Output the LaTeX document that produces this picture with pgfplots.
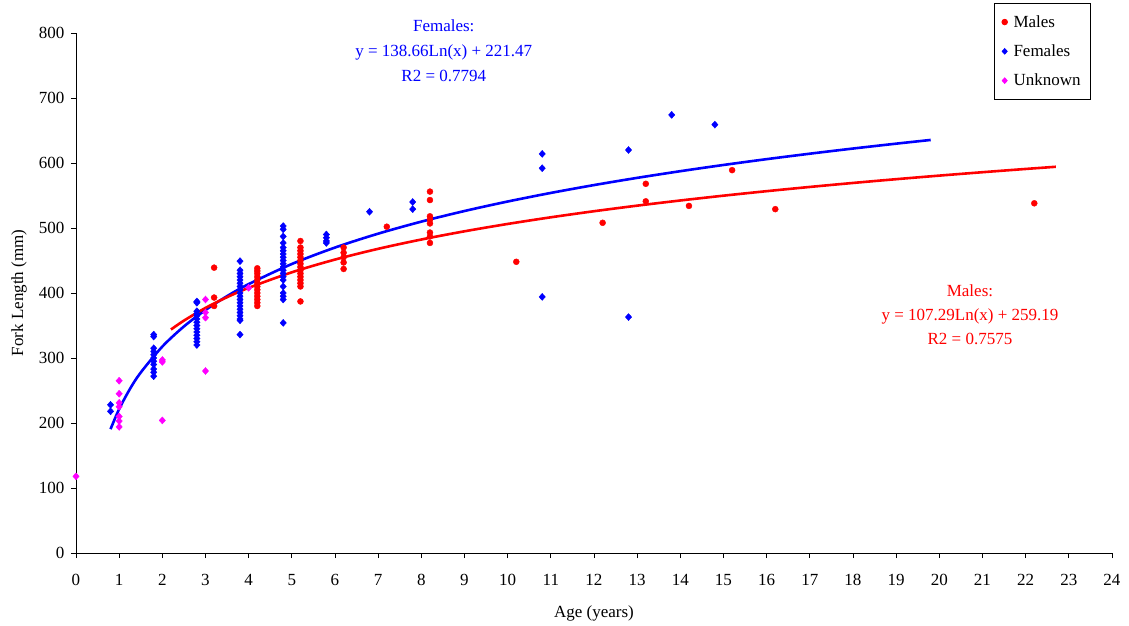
\documentclass[border=0pt]{standalone}
\usepackage{fontspec}
\setmainfont{Liberation Serif}
\usepackage{pgfplots}
\pgfplotsset{compat=1.18}

\definecolor{mred}{RGB}{255,0,0}
\definecolor{fblue}{RGB}{0,0,255}
\definecolor{umag}{RGB}{255,0,255}

\newcommand{\chartfont}{\fontsize{17}{20}\selectfont}

\begin{document}
\begin{tikzpicture}
\begin{axis}[
  at={(0,0)}, anchor=south west,
  scale only axis,
  width=1036pt, height=520pt,
  xmin=0, xmax=24, ymin=0, ymax=800,
  xtick={0,1,...,24}, ytick={0,100,...,800},
  axis lines=left,
  axis line style={-, black, line width=0.8pt},
  tick align=outside, major tick length=5pt,
  tick style={black, line width=0.8pt},
  /pgf/number format/assume math mode=true,
  font=\chartfont,
  ticklabel style={font=\chartfont},
  xticklabel style={yshift=-13pt},
  yticklabel style={xshift=-3pt},
  xlabel={Age (years)}, ylabel={Fork Length (mm)},
  xlabel style={font=\chartfont, at={(axis description cs:0.5,-0.1170)}, anchor=center},
  ylabel style={font=\chartfont, at={(axis description cs:-0.055,0.5)}, anchor=center},
  clip=false,
  legend style={at={(0.9797,1.0577)}, anchor=north east, draw=black,
    line width=0.8pt, font=\chartfont,
    row sep=12pt, column sep=4pt, inner xsep=8pt, inner ysep=10pt},
  legend image post style={mark size=2.8pt},
  legend cell align=left,
]
% Males
\addplot[only marks, mark=*, mark size=3pt, color=mred] coordinates {
 (3.2,439) (3.2,393) (3.2,380)
 (4.2,438) (4.2,434) (4.2,430) (4.2,425) (4.2,420) (4.2,415) (4.2,410)
 (4.2,405) (4.2,400) (4.2,395) (4.2,390) (4.2,385) (4.2,380)
 (5.2,480) (5.2,470) (5.2,465) (5.2,460) (5.2,455) (5.2,450) (5.2,445)
 (5.2,440) (5.2,435) (5.2,430) (5.2,425) (5.2,420) (5.2,415) (5.2,410) (5.2,387)
 (6.2,470) (6.2,462) (6.2,455) (6.2,447) (6.2,437)
 (7.2,502)
 (8.2,556) (8.2,543) (8.2,518) (8.2,513) (8.2,507) (8.2,493) (8.2,487) (8.2,477)
 (10.2,448) (12.2,508) (13.2,568) (13.2,541) (14.2,534) (15.2,589) (16.2,529)
 (22.2,538)
};
\addlegendentry{Males}
% Females
\addplot[only marks, mark=diamond*, mark size=3.5pt,
  mark options={xscale=1.2}, color=fblue] coordinates {
 (0.8,228) (0.8,218)
 (1.8,336) (1.8,333) (1.8,315) (1.8,310) (1.8,305) (1.8,300) (1.8,295)
 (1.8,290) (1.8,283) (1.8,278) (1.8,272)
 (2.8,387) (2.8,385) (2.8,372) (2.8,368) (2.8,365) (2.8,360) (2.8,355)
 (2.8,350) (2.8,345) (2.8,340) (2.8,335) (2.8,330) (2.8,325) (2.8,320)
 (3.8,449) (3.8,435) (3.8,430) (3.8,425) (3.8,420) (3.8,415) (3.8,410)
 (3.8,405) (3.8,400) (3.8,395) (3.8,390) (3.8,385) (3.8,380) (3.8,375)
 (3.8,370) (3.8,365) (3.8,360) (3.8,358) (3.8,336)
 (4.8,503) (4.8,498) (4.8,487) (4.8,477) (4.8,470) (4.8,465) (4.8,460)
 (4.8,455) (4.8,450) (4.8,445) (4.8,440) (4.8,435) (4.8,430) (4.8,425)
 (4.8,420) (4.8,410) (4.8,400) (4.8,395) (4.8,390) (4.8,354)
 (5.8,490) (5.8,485) (5.8,480) (5.8,477)
 (6.8,525) (7.8,540) (7.8,529)
 (10.8,614) (10.8,592) (10.8,394)
 (12.8,620) (12.8,363) (13.8,674) (14.8,659)
};
\addlegendentry{Females}
% Unknown sex
\addplot[only marks, mark=diamond*, mark size=3.5pt,
  mark options={xscale=1.2}, color=umag] coordinates {
 (0,118)
 (1,265) (1,245) (1,231) (1,225) (1,210) (1,203) (1,194)
 (2,297) (2,294) (2,204)
 (3,390) (3,370) (3,362) (3,280)
 (4,408)
};
\addlegendentry{Unknown}
% Logarithmic trendline, females: y = 138.66 ln(x) + 221.47
\addplot[forget plot, no marks, color=fblue, line width=2.6pt, smooth] coordinates {
 (0.8,190.53) (1,221.47) (1.25,252.41) (1.5,277.69) (2,317.58) (2.5,348.52)
 (3,373.80) (3.5,395.18) (4,413.69) (5,444.63) (6,469.92) (7,491.29)
 (8,509.80) (9,526.14) (10,540.75) (11,553.96) (12,566.03) (13,577.13)
 (14,587.40) (15,596.97) (16,605.92) (17,614.32) (18,622.25) (19,629.75)
 (19.8,635.46)
};
% Logarithmic trendline, males: y = 107.29 ln(x) + 259.19
\addplot[forget plot, no marks, color=mred, line width=2.6pt, smooth] coordinates {
 (2.2,343.78) (2.5,357.50) (3,377.06) (3.5,393.60) (4,407.93) (5,431.87)
 (6,451.43) (7,467.97) (8,482.29) (9,494.93) (10,506.23) (11,516.46)
 (12,525.80) (13,534.38) (14,542.33) (15,549.74) (16,556.66) (17,563.16)
 (18,569.30) (19,575.10) (20,580.60) (21,585.83) (22,590.83) (22.7,594.19)
};
\node[color=fblue, align=center, font=\fontsize{17}{25}\selectfont]
  at (axis cs:8.52,773) {Females:\\y = 138.66Ln(x) + 221.47\\R2 = 0.7794};
\node[color=mred, align=center, font=\fontsize{17}{24}\selectfont]
  at (axis cs:20.71,367) {Males:\\y = 107.29Ln(x) + 259.19\\R2 = 0.7575};
\end{axis}
\path[use as bounding box] (-76pt,-73pt) rectangle (1053pt,553pt);
\end{tikzpicture}
\end{document}
